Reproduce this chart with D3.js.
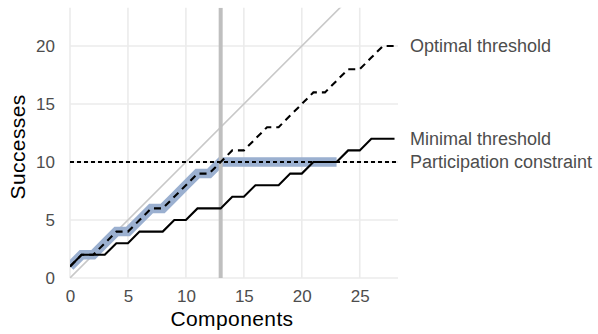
<!doctype html>
<html>
<head>
<meta charset="utf-8">
<style>
  body { margin: 0; background: #fff; }
  svg text { font-family: "Liberation Sans", Arial, sans-serif; }
</style>
<script src="https://cdn.jsdelivr.net/npm/d3@7"></script>
</head>
<body>
<svg id="chart" width="598" height="334"></svg>
<script>
// data
var components = [0,1,2,3,4,5,6,7,8,9,10,11,12,13,14,15,16,17,18,19,20,21,22,23,24,25,26,27,28];
var optimal    = [1,2,2,3,4,4,5,6,6,7,8,9,9,10,11,11,12,13,13,14,15,16,16,17,18,18,19,20,20];
var minimal    = [1,2,2,2,3,3,4,4,4,5,5,6,6,6,7,7,8,8,8,9,9,10,10,10,11,11,12,12,12];
var realised   = [1,2,2,3,4,4,5,6,6,7,8,9,9,10,10,10,10,10,10,10,10,10,10,10];
var participation = 10;
var cutoff = 13;
var xTicks = [0, 5, 10, 15, 20, 25];
var yTicks = [0, 5, 10, 15, 20];
var labels = [
  {text: "Optimal threshold", value: 20},
  {text: "Minimal threshold", value: 12},
  {text: "Participation constraint", value: 10}
];

var svg = d3.select("#chart");

var x = d3.scaleLinear().domain([0, 28.3]).range([70, 398]);
var y = d3.scaleLinear().domain([0, 23.3]).range([278, 7.7]);

svg.append("clipPath").attr("id", "panel")
   .append("rect")
   .attr("x", x(0)).attr("y", y(23.3))
   .attr("width", x(28.3) - x(0)).attr("height", y(0) - y(23.3));

// grid
svg.append("g").selectAll("line").data(xTicks).enter().append("line")
   .attr("x1", function(d) { return x(d); }).attr("x2", function(d) { return x(d); })
   .attr("y1", y(0)).attr("y2", y(23.3))
   .attr("stroke", "#ebebeb").attr("stroke-width", 1.6);
svg.append("g").selectAll("line").data(yTicks).enter().append("line")
   .attr("y1", function(d) { return y(d); }).attr("y2", function(d) { return y(d); })
   .attr("x1", x(0)).attr("x2", x(28.3))
   .attr("stroke", "#ebebeb").attr("stroke-width", 1.6);

// axes (labels only)
var xAxis = svg.append("g")
   .attr("transform", "translate(0," + (y(0) + 4) + ")")
   .call(d3.axisBottom(x).tickValues(xTicks).tickSize(0).tickPadding(8));
var yAxis = svg.append("g")
   .attr("transform", "translate(" + (x(0) - 5) + ",0)")
   .call(d3.axisLeft(y).tickValues(yTicks).tickSize(0).tickPadding(10));
[xAxis, yAxis].forEach(function(a) {
  a.select(".domain").remove();
  a.selectAll("text").attr("fill", "#4d4d4d").attr("font-size", "17px")
   .style("font-family", "Liberation Sans, Arial, sans-serif");
});

svg.append("text")
   .attr("x", (x(0) + x(28.3)) / 2 - 2).attr("y", 326)
   .attr("text-anchor", "middle").attr("font-size", "21px").attr("fill", "#000")
   .attr("letter-spacing", "0.4px")
   .text("Components");
svg.append("text")
   .attr("transform", "translate(25," + ((y(0) + y(23.3)) / 2 + 4) + ") rotate(-90)")
   .attr("text-anchor", "middle").attr("font-size", "21px").attr("fill", "#000")
   .attr("letter-spacing", "0.4px")
   .text("Successes");

var plot = svg.append("g").attr("clip-path", "url(#panel)");

// diagonal y = x
plot.append("line")
   .attr("x1", x(0)).attr("y1", y(0)).attr("x2", x(28.3)).attr("y2", y(28.3))
   .attr("stroke", "#c8c8c8").attr("stroke-width", 1.6);

// realised path highlight
var line = d3.line()
   .x(function(d, i) { return x(components[i]); })
   .y(function(d) { return y(d); });

plot.append("path").datum(realised)
   .attr("d", line).attr("fill", "none")
   .attr("stroke", "#9bb0d0").attr("stroke-width", 9.5);

// vertical cutoff
plot.append("line")
   .attr("x1", x(cutoff)).attr("x2", x(cutoff))
   .attr("y1", y(0)).attr("y2", y(23.3))
   .attr("stroke", "#bfbfbf").attr("stroke-width", 4);

// participation constraint
plot.append("line")
   .attr("x1", x(0)).attr("x2", x(28.3))
   .attr("y1", y(participation)).attr("y2", y(participation))
   .attr("stroke", "#000").attr("stroke-width", 2)
   .attr("stroke-dasharray", "4,3");

plot.append("path").datum(minimal)
   .attr("d", line).attr("fill", "none")
   .attr("stroke", "#000").attr("stroke-width", 2.1);

plot.append("path").datum(optimal)
   .attr("d", line).attr("fill", "none")
   .attr("stroke", "#000").attr("stroke-width", 2.1)
   .attr("stroke-dasharray", "7,5");

// direct labels
svg.append("g").selectAll("text").data(labels).enter().append("text")
   .attr("x", 410).attr("y", function(d) { return y(d.value); })
   .attr("dy", "0.35em").attr("font-size", "18px").attr("fill", "#4d4d4d")
   .text(function(d) { return d.text; });
</script>
</body>
</html>
